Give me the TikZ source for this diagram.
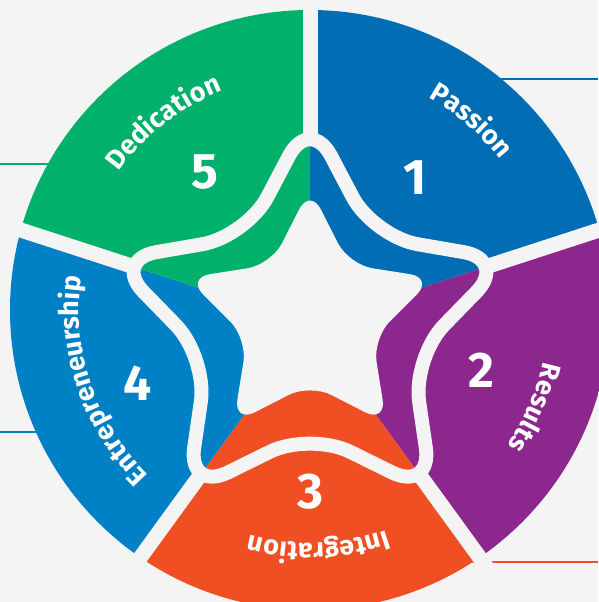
\documentclass[tikz,border=0pt]{standalone}
\usepackage{fontspec}
\setmainfont{Fira Sans}
\usetikzlibrary{decorations.text}

\definecolor{bgc}{HTML}{F4F4F4}
\definecolor{passion}{HTML}{006DB5}
\definecolor{results}{HTML}{8C278D}
\definecolor{integration}{HTML}{F04E23}
\definecolor{entrep}{HTML}{0081C6}
\definecolor{dedication}{HTML}{00B06B}

\newcommand{\lblfont}{\fontsize{27}{27}\selectfont\bfseries}

\tikzset{
  gap/.style={draw=bgc, line width=15},
  band/.style={draw=bgc, line width=14, rounded corners=45},
  lead/.style={draw=#1, line width=2},
  num/.style={text=white, font=\fontsize{50}{50}\selectfont\bfseries},
  starpath/.style 2 args={insert path={(90:#1)
      \foreach \a in {90,162,234,306}{ -- ({\a+36}:#2) -- ({\a+72}:#1)} -- (54:#2) -- cycle}},
  arclabel/.style={decorate, decoration={text along path, text align=center,
      text color=white, text={|\lblfont|#1}}},
}

\begin{document}
\begin{tikzpicture}[x=1pt, y=1pt]
\useasboundingbox[fill=bgc] (-310,-278) rectangle (288,324);

\coordinate (O) at (0,14);
\coordinate (east) at (288,0);
\coordinate (west) at (-310,0);
\path (O) ++(50.35:300) coordinate (e1);
\path (O) ++(150.88:300) coordinate (e5);
\path (O) ++(204:300) coordinate (e4);
\path (O) ++(-57.14:300) coordinate (e3);

% leader lines
\draw[lead=passion] (e1) -- (e1 -| east);
\draw[lead=dedication] (e5) -- (e5 -| west);
\draw[lead=entrep] (e4) -- (e4 -| west);
\draw[lead=integration] (e3) -- (e3 -| east);

% outer ring
\begin{scope}
  \clip (O) circle (300);
  \foreach \a/\c in {18/passion, -54/results, -126/integration, 162/entrep, 90/dedication}
    \fill[\c] (0,0) -- (\a:700) -- ({\a+36}:700) -- ({\a+72}:700) -- cycle;
\end{scope}
\foreach \a in {18,90,162,234,306}
  \draw[gap] (0,0) -- (\a:420);

% inner ring, no gaps
\begin{scope}
  \clip[rounded corners=45, starpath={208}{108}];
  \foreach \a/\c in {18/passion, -54/results, -126/integration, 162/entrep, 90/dedication}
    \fill[\c] (0,0) -- (\a:300) -- ({\a+36}:300) -- ({\a+72}:300) -- cycle;
\end{scope}
\path[band, starpath={208}{108}];

% star
\fill[bgc, rounded corners=24, shift={(0,6)}, starpath={130}{66}];

% numbers
\node[num] (n1) at (105,146) {1};
\node[num] (n2) at (171,-46) {2};
\node[num] (n3) at (0,-168) {3};
\node[num] (n4) at (-172,-59) {4};
\node[num] (n5) at (-105,152) {5};

% labels
\path[arclabel=Passion] ([shift={(109.6:243)}]O) arc[start angle=109.6, end angle=-10.4, radius=243];
\path[arclabel=Results] ([shift={(36.5:239)}]O) arc[start angle=36.5, end angle=-83.5, radius=239];
\path[arclabel=Integration] ([shift={(-28:233)}]O) arc[start angle=-28, end angle=-148, radius=233];
\path[arclabel=Entrepreneurship] ([shift={(258.7:231)}]O) arc[start angle=258.7, end angle=138.7, radius=231];
\path[arclabel=Dedication] ([shift={(188:236)}]O) arc[start angle=188, end angle=68, radius=236];
\end{tikzpicture}
\end{document}
